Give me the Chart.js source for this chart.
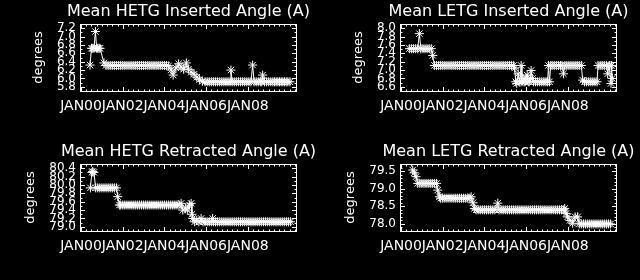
<!DOCTYPE html>
<html><head><meta charset="utf-8">
<script src="https://cdn.jsdelivr.net/npm/chart.js@4.4.1/dist/chart.umd.min.js"></script>
<style>
html,body{margin:0;padding:0;background:#000;width:640px;height:280px;overflow:hidden}
.p{position:absolute;width:320px;height:140px}
canvas{display:block}
</style></head><body>
<div class="p" style="left:0;top:0"><canvas id="c1" width="320" height="140"></canvas></div>
<div class="p" style="left:320px;top:0"><canvas id="c2" width="320" height="140"></canvas></div>
<div class="p" style="left:0;top:140px"><canvas id="c3" width="320" height="140"></canvas></div>
<div class="p" style="left:320px;top:140px"><canvas id="c4" width="320" height="140"></canvas></div>
<script>
// ---- shared x axis (years since 2000) ----
const xTickYears = [0, 2, 4, 6, 8];
const xTickLabels = ['JAN00', 'JAN02', 'JAN04', 'JAN06', 'JAN08'];

// ---- panel titles ----
const titles = [
  'Mean HETG Inserted Angle (A)',
  'Mean LETG Inserted Angle (A)',
  'Mean HETG Retracted Angle (A)',
  'Mean LETG Retracted Angle (A)'
];

// ---- y tick labels ----
const hetgInsTicks = [5.8, 6.0, 6.2, 6.4, 6.6, 6.8, 7.0, 7.2];
const letgInsTicks = [6.6, 6.8, 7.0, 7.2, 7.4, 7.6, 7.8, 8.0];
const hetgRetTicks = [79.0, 79.2, 79.4, 79.6, 79.8, 80.0, 80.2, 80.4];
const letgRetTicks = [78.0, 78.5, 79.0, 79.5];

// ---- Mean HETG Inserted Angle ----
const hetgInsYears = [
  0.43,0.50,0.56,0.62,0.69,0.75,0.80,0.86,0.91,1.10,
  1.20,1.30,1.40,1.50,1.60,1.70,1.80,1.90,2.00,2.10,
  2.20,2.30,2.40,2.50,2.60,2.70,2.80,2.90,3.00,3.10,
  3.20,3.30,3.40,3.50,3.60,3.70,3.80,3.90,4.00,4.10,
  4.20,4.32,4.42,4.55,4.68,4.80,4.92,5.05,5.15,5.28,
  5.42,5.55,5.68,5.82,5.95,6.05,6.15,6.25,6.35,6.45,
  6.55,6.65,6.75,6.85,6.95,7.05,7.15,7.19,7.25,7.35,
  7.45,7.55,7.65,7.75,7.85,7.95,8.05,8.15,8.23,8.30,
  8.40,8.50,8.60,8.67,8.71,8.80,8.90,9.00,9.10,9.20,
  9.28,9.36,9.44,9.52,9.60,9.68,9.76,9.84,9.92,10.02];
const hetgInsDeg = [
  6.32,6.72,6.72,6.72,7.12,6.72,6.72,6.72,6.72,6.37,
  6.31,6.31,6.31,6.31,6.31,6.31,6.31,6.31,6.31,6.31,
  6.31,6.31,6.31,6.31,6.31,6.31,6.31,6.31,6.31,6.31,
  6.31,6.31,6.31,6.31,6.31,6.31,6.31,6.31,6.31,6.31,
  6.30,6.20,6.08,6.25,6.35,6.27,6.22,6.37,6.22,6.15,
  6.10,6.03,5.97,5.93,5.92,5.92,5.92,5.92,5.92,5.92,
  5.92,5.92,5.92,5.92,5.92,5.92,5.92,6.20,5.92,5.92,
  5.92,5.92,5.92,5.92,5.92,5.92,5.92,5.92,6.32,5.92,
  5.92,5.92,5.92,5.92,6.08,5.92,5.92,5.92,5.92,5.92,
  5.92,5.92,5.92,5.92,5.92,5.92,5.92,5.92,5.92,5.92];

// ---- Mean LETG Inserted Angle ----
const letgInsYears = [
  0.40,0.50,0.60,0.70,0.80,0.88,0.95,1.05,1.15,1.25,
  1.35,1.45,1.52,1.60,1.70,1.80,1.90,2.00,2.10,2.20,
  2.30,2.40,2.50,2.60,2.70,2.80,2.90,3.00,3.10,3.20,
  3.30,3.40,3.50,3.60,3.70,3.80,3.90,4.00,4.10,4.20,
  4.30,4.40,4.50,4.60,4.70,4.80,4.90,5.00,5.10,5.20,
  5.30,5.40,5.45,5.50,5.55,5.62,5.70,5.76,5.80,5.85,
  5.90,5.95,6.00,6.05,6.10,6.15,6.20,6.24,6.30,6.35,
  6.45,6.55,6.65,6.75,6.85,6.95,7.03,7.07,7.12,7.18,
  7.25,7.35,7.45,7.55,7.65,7.72,7.79,7.86,7.95,8.05,
  8.15,8.25,8.35,8.45,8.55,8.65,8.71,8.80,8.90,9.00,
  9.10,9.20,9.30,9.40,9.45,9.55,9.65,9.75,9.85,9.91,
  9.98,10.02,10.07,10.10,10.13];
const letgInsDeg = [
  7.51,7.51,7.51,7.51,7.51,7.87,7.51,7.51,7.51,7.51,
  7.51,7.51,7.35,7.11,7.11,7.11,7.11,7.11,7.11,7.11,
  7.11,7.11,7.11,7.11,7.11,7.11,7.11,7.11,7.11,7.11,
  7.11,7.11,7.11,7.11,7.11,7.11,7.11,7.11,7.11,7.11,
  7.11,7.11,7.11,7.11,7.11,7.11,7.11,7.11,7.11,7.11,
  7.11,7.11,7.05,6.72,6.68,6.91,6.72,7.11,6.72,6.80,
  6.72,6.72,6.80,6.88,6.72,6.72,6.80,6.99,6.80,6.72,
  6.72,6.72,6.72,6.72,6.72,6.72,6.72,7.11,6.72,7.11,
  7.11,7.11,7.11,7.11,7.11,7.11,6.91,7.11,7.11,7.11,
  7.11,7.11,7.11,7.11,7.11,7.11,6.76,6.72,6.72,6.72,
  6.72,6.72,6.72,6.72,7.11,7.11,7.11,7.11,7.11,6.91,
  7.11,7.11,6.68,7.11,6.80];

// ---- Mean HETG Retracted Angle ----
const hetgRetYears = [
  0.45,0.52,0.56,0.62,0.70,0.80,0.90,1.00,1.10,1.20,
  1.30,1.40,1.50,1.60,1.70,1.76,1.84,1.90,2.00,2.10,
  2.20,2.30,2.40,2.50,2.60,2.70,2.80,2.90,3.00,3.10,
  3.20,3.30,3.40,3.50,3.60,3.70,3.80,3.90,4.00,4.10,
  4.20,4.30,4.40,4.50,4.60,4.70,4.80,4.88,5.00,5.10,
  5.20,5.28,5.32,5.36,5.45,5.55,5.65,5.76,5.85,5.95,
  6.05,6.15,6.25,6.31,6.35,6.45,6.55,6.65,6.75,6.85,
  6.95,7.05,7.15,7.25,7.35,7.45,7.55,7.65,7.75,7.85,
  7.95,8.05,8.15,8.25,8.35,8.45,8.55,8.65,8.75,8.85,
  8.95,9.05,9.15,9.25,9.35,9.45,9.55,9.65,9.75,9.85,
  9.95,10.05];
const hetgRetDeg = [
  79.93,80.30,80.32,80.30,79.93,79.93,79.93,79.93,79.93,79.93,
  79.93,79.93,79.93,79.93,79.93,79.72,79.52,79.52,79.52,79.52,
  79.52,79.52,79.52,79.52,79.52,79.52,79.52,79.52,79.52,79.52,
  79.52,79.52,79.52,79.52,79.52,79.52,79.52,79.52,79.52,79.52,
  79.52,79.52,79.52,79.52,79.52,79.52,79.56,79.40,79.45,79.40,
  79.52,79.56,79.30,79.20,79.12,79.15,79.12,79.20,79.12,79.12,
  79.12,79.12,79.12,79.20,79.12,79.12,79.12,79.12,79.12,79.12,
  79.12,79.12,79.12,79.12,79.12,79.12,79.12,79.12,79.12,79.12,
  79.12,79.12,79.12,79.12,79.12,79.12,79.12,79.12,79.12,79.12,
  79.12,79.12,79.12,79.12,79.12,79.12,79.12,79.12,79.12,79.12,
  79.12,79.12];

// ---- Mean LETG Retracted Angle ----
const letgRetYears = [
  0.56,0.64,0.72,0.80,0.90,1.00,1.10,1.20,1.30,1.40,
  1.50,1.60,1.70,1.76,1.84,1.90,2.00,2.10,2.20,2.30,
  2.40,2.50,2.60,2.70,2.80,2.90,3.00,3.10,3.20,3.30,
  3.36,3.45,3.52,3.60,3.70,3.80,3.90,4.00,4.10,4.20,
  4.30,4.40,4.50,4.64,4.70,4.80,4.90,5.00,5.10,5.20,
  5.30,5.40,5.50,5.60,5.70,5.80,5.90,6.00,6.10,6.20,
  6.30,6.40,6.50,6.60,6.70,6.80,6.90,7.00,7.10,7.20,
  7.30,7.40,7.50,7.60,7.70,7.80,7.85,7.92,7.99,8.10,
  8.23,8.35,8.47,8.55,8.65,8.75,8.85,8.95,9.05,9.15,
  9.25,9.35,9.45,9.55,9.65,9.75,9.85,9.95,10.05];
const letgRetDeg = [
  79.53,79.45,79.34,79.15,79.15,79.15,79.15,79.15,79.15,79.15,
  79.15,79.15,79.15,78.96,78.77,78.73,78.73,78.73,78.73,78.73,
  78.73,78.73,78.73,78.73,78.73,78.73,78.73,78.73,78.73,78.73,
  78.77,78.60,78.44,78.40,78.40,78.40,78.40,78.40,78.40,78.40,
  78.40,78.40,78.40,78.59,78.40,78.40,78.40,78.40,78.40,78.40,
  78.40,78.40,78.40,78.40,78.40,78.40,78.40,78.40,78.40,78.40,
  78.40,78.40,78.40,78.40,78.40,78.40,78.40,78.40,78.40,78.40,
  78.40,78.40,78.40,78.40,78.40,78.40,78.44,78.30,78.20,78.10,
  78.02,78.20,78.20,78.00,78.00,78.00,78.00,78.00,78.00,78.00,
  78.00,78.00,78.00,78.00,78.00,78.00,78.00,78.00,78.00];

const FONT = "'DejaVu Sans', sans-serif";
Chart.defaults.font.family = FONT;
Chart.defaults.color = '#fff';

// IDL-style box with inward tick marks and centred heading, placed through the chart's own scales
const idlFrame = {
  id: 'idlFrame',
  afterDraw(chart, args, opts) {
    const {ctx, chartArea: a, scales: {x, y}} = chart;
    ctx.save();
    ctx.strokeStyle = '#fff';
    ctx.fillStyle = '#fff';
    ctx.lineWidth = 1;
    ctx.strokeRect(a.left + 0.5, a.top + 0.5, a.right - a.left, a.bottom - a.top);
    ctx.beginPath();
    const isMajor = (v, ticks) => ticks.some(t => Math.abs(t.value - v) < 1e-6);
    const ys = opts.yMinorStep;
    for (let k = Math.ceil(y.min / ys - 1e-6); k * ys <= y.max + 1e-6; k++) {
      const v = k * ys;
      const p = Math.round(y.getPixelForValue(v)) + 0.5;
      const len = isMajor(v, y.ticks) ? 5 : 2.5;
      ctx.moveTo(a.left, p); ctx.lineTo(a.left + len, p);
      ctx.moveTo(a.right + 1, p); ctx.lineTo(a.right + 1 - len, p);
    }
    const xs = opts.xMinorStep;
    for (let k = Math.ceil(x.min / xs - 1e-6); k * xs <= x.max + 1e-6; k++) {
      const v = k * xs;
      const p = Math.round(x.getPixelForValue(v)) + 0.5;
      const len = isMajor(v, x.ticks) ? 5 : 2.5;
      ctx.moveTo(p, a.bottom + 1); ctx.lineTo(p, a.bottom + 1 - len);
      ctx.moveTo(p, a.top); ctx.lineTo(p, a.top + len);
    }
    ctx.stroke();
    ctx.font = '16px ' + FONT;
    ctx.textAlign = 'center';
    ctx.textBaseline = 'middle';
    ctx.fillText(opts.heading, (a.left + a.right) / 2 + 0.5, 12);
    ctx.restore();
  }
};

function makeChart(id, title, years, values, yMin, yMax, yTicks, yTitlePad) {
  return new Chart(document.getElementById(id), {
    type: 'line',
    data: {
      datasets: [{
        data: years.map((v, i) => ({x: v, y: values[i]})),
        borderColor: '#fff',
        borderWidth: 1,
        pointStyle: 'star',
        pointRadius: 4.5,
        pointBorderColor: '#fff',
        pointBackgroundColor: '#fff',
        pointBorderWidth: 1,
        tension: 0,
        fill: false
      }]
    },
    options: {
      responsive: false,
      devicePixelRatio: 1,
      animation: false,
      events: [],
      layout: {padding: {left: 0, right: 24, top: 24, bottom: 0}},
      plugins: {
        legend: {display: false},
        tooltip: {enabled: false},
        title: {display: false},
        idlFrame: {yMinorStep: 0.1, xMinorStep: 0.25, heading: title}
      },
      scales: {
        x: {
          type: 'linear', min: -0.05, max: 10.31,
          afterBuildTicks: s => { s.ticks = xTickYears.map(v => ({value: v})); },
          afterFit: s => { s.height = 49; },
          grid: {display: false, drawTicks: false},
          border: {display: false},
          ticks: {
            color: '#fff', font: {size: 14}, padding: 7, autoSkip: false, maxRotation: 0,
            callback: (v, i) => xTickLabels[i]
          }
        },
        y: {
          type: 'linear', min: yMin, max: yMax,
          afterBuildTicks: s => { s.ticks = yTicks.map(v => ({value: v})); },
          afterFit: s => { s.width = 80; },
          grid: {display: false, drawTicks: false},
          border: {display: false},
          ticks: {
            color: '#fff', font: {size: 12}, padding: 4, autoSkip: false,
            callback: v => v.toFixed(1)
          },
          title: {
            display: true, text: 'degrees', color: '#fff',
            font: {size: 13}, padding: {top: yTitlePad, bottom: 0}
          }
        }
      }
    },
    plugins: [idlFrame]
  });
}

makeChart('c1', titles[0], hetgInsYears, hetgInsDeg, 5.7, 7.3, hetgInsTicks, 31);
makeChart('c2', titles[1], letgInsYears, letgInsDeg, 6.5, 8.1, letgInsTicks, 31);
makeChart('c3', titles[2], hetgRetYears, hetgRetDeg, 78.9, 80.5, hetgRetTicks, 23);
makeChart('c4', titles[3], letgRetYears, letgRetDeg, 77.8, 79.7, letgRetTicks, 23);
</script>
</body></html>
